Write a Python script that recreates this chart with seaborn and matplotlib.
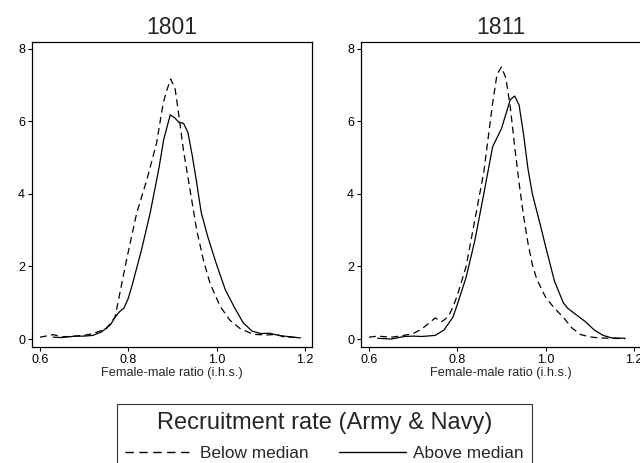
import numpy as np
import pandas as pd
import matplotlib
matplotlib.use("Agg")
import matplotlib.pyplot as plt
import seaborn as sns
from matplotlib.lines import Line2D

sns.set_style("white")
plt.rcParams['font.family'] = ['Liberation Sans', 'DejaVu Sans']

years = ["1801", "1811"]
series_labels = ["Below median", "Above median"]
legend_title = "Recruitment rate (Army & Navy)"
xlabel = "Female-male ratio (i.h.s.)"

# 1801
x_1801_below = [0.60, 0.63, 0.65, 0.68, 0.70, 0.72, 0.75, 0.77, 0.796, 0.819, 0.842, 0.864, 0.879,
                0.887, 0.896, 0.906, 0.913, 0.925, 0.94, 0.955, 0.97, 0.985, 1.008, 1.03, 1.053,
                1.083, 1.113, 1.136, 1.151, 1.185]
y_1801_below = [0.05, 0.12, 0.06, 0.08, 0.10, 0.15, 0.28, 0.60, 2.18, 3.47, 4.39, 5.40, 6.50,
                6.85, 7.17, 6.90, 6.30, 5.20, 4.10, 3.00, 2.18, 1.54, 0.90, 0.52, 0.29,
                0.13, 0.11, 0.13, 0.06, 0.04]
x_1801_above = [0.63, 0.65, 0.68, 0.70, 0.72, 0.74, 0.76, 0.77, 0.78, 0.79, 0.80, 0.81, 0.83,
                0.85, 0.87, 0.88, 0.895, 0.905, 0.915, 0.925, 0.935, 0.945, 0.955, 0.965, 0.98,
                1.00, 1.02, 1.04, 1.06, 1.08, 1.10, 1.12, 1.14, 1.16, 1.19]
y_1801_above = [0.05, 0.04, 0.08, 0.08, 0.10, 0.20, 0.40, 0.60, 0.75, 0.85, 1.12, 1.54, 2.46,
                3.50, 4.75, 5.49, 6.18, 6.10, 5.97, 5.95, 5.70, 5.05, 4.30, 3.50, 2.82,
                2.05, 1.35, 0.88, 0.45, 0.22, 0.15, 0.16, 0.10, 0.07, 0.03]

# 1811
x_1811_below = [0.60, 0.62, 0.65, 0.67, 0.70, 0.72, 0.74, 0.75, 0.765, 0.78, 0.79, 0.80, 0.82,
                0.84, 0.86, 0.87, 0.88, 0.89, 0.90, 0.91, 0.92, 0.93, 0.94, 0.95, 0.96, 0.97,
                0.98, 1.00, 1.02, 1.04, 1.06, 1.08, 1.10, 1.12, 1.15, 1.18]
y_1811_below = [0.05, 0.08, 0.05, 0.08, 0.15, 0.28, 0.48, 0.58, 0.48, 0.62, 0.88, 1.20, 2.00,
                3.30, 4.60, 5.55, 6.50, 7.30, 7.50, 7.20, 6.40, 5.30, 4.30, 3.40, 2.65, 2.05,
                1.65, 1.15, 0.85, 0.60, 0.30, 0.12, 0.06, 0.03, 0.02, 0.01]
x_1811_above = [0.62, 0.65, 0.68, 0.70, 0.72, 0.75, 0.77, 0.79, 0.80, 0.82, 0.84, 0.86, 0.88,
                0.90, 0.91, 0.92, 0.93, 0.94, 0.95, 0.96, 0.97, 0.99, 1.00, 1.02, 1.04, 1.05,
                1.07, 1.09, 1.11, 1.13, 1.15, 1.18]
y_1811_above = [0.02, 0.00, 0.07, 0.08, 0.07, 0.10, 0.25, 0.60, 0.95, 1.70, 2.73, 4.00, 5.30,
                5.80, 6.20, 6.60, 6.70, 6.45, 5.65, 4.70, 4.00, 3.05, 2.55, 1.60, 1.00, 0.85,
                0.66, 0.48, 0.25, 0.10, 0.03, 0.02]

x_ticks = [0.6, 0.8, 1.0, 1.2]
x_ticklabels = ["0.6", "0.8", "1.0", "1.2"]
y_ticks = [0, 2, 4, 6, 8]

panels = [
    (x_1801_below, y_1801_below, x_1801_above, y_1801_above),
    (x_1811_below, y_1811_below, x_1811_above, y_1811_above),
]

fig = plt.figure(figsize=(6.4, 4.63), dpi=100)
ax_pos = [[32/640, 1-347/463, 280/640, 305/463],
          [361/640, 1-347/463, 280/640, 305/463]]

dash = (0, (5.5, 3.5))
for i, (xb, yb, xa, ya) in enumerate(panels):
    ax = fig.add_axes(ax_pos[i])
    sns.lineplot(x=xb, y=yb, ax=ax, color='black', lw=0.9, linestyle='--', sort=True)
    ax.lines[-1].set_linestyle(dash)
    sns.lineplot(x=xa, y=ya, ax=ax, color='black', lw=0.9, sort=True)
    ax.set_xlim(0.582, 1.216)
    ax.set_ylim(-0.22, 8.19)
    ax.set_xticks(x_ticks)
    ax.set_xticklabels(x_ticklabels)
    ax.set_yticks(y_ticks)
    ax.tick_params(axis='both', labelsize=9, length=3, width=0.8, direction='out',
                   bottom=True, left=True, pad=2, colors='black')
    ax.set_xlabel(xlabel, fontsize=9.2, labelpad=1)
    ax.set_ylabel("")
    ax.set_title(years[i], fontsize=16.5, pad=6)
    for s in ax.spines.values():
        s.set_color('black')
        s.set_linewidth(0.9)

handles = [Line2D([0], [0], color='black', lw=1.0, linestyle=(0, (6, 4))),
           Line2D([0], [0], color='black', lw=1.0)]
leg = fig.legend(handles, series_labels, title=legend_title, loc='upper center',
                 bbox_to_anchor=(0.507, 1-404/463), ncol=2, fontsize=12.4,
                 title_fontsize=17, handlelength=3.9, columnspacing=1.75,
                 frameon=True, fancybox=False, edgecolor='black', borderpad=0.45,
                 handletextpad=0.45, borderaxespad=0, labelspacing=0.7)
leg.get_frame().set_linewidth(0.8)

fig.savefig("out.png", dpi=100)
